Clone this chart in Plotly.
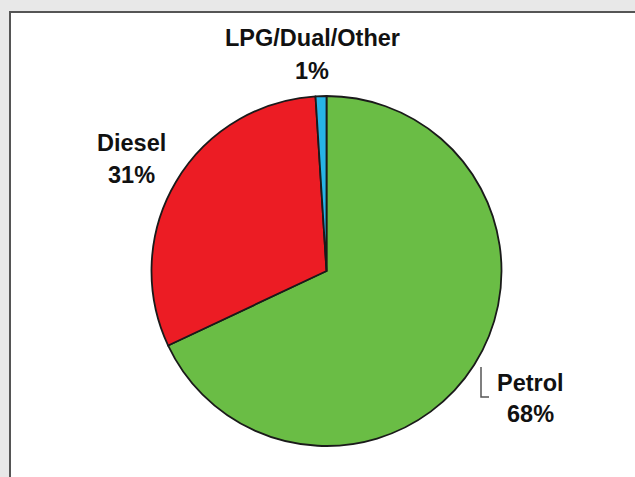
import plotly.graph_objects as go

# fuel type shares
fuels = ["Petrol", "Diesel", "LPG/Dual/Other"]
shares = [68, 31, 1]
colours = ["#6abd45", "#ec1c24", "#27b4e6"]

W, H = 635, 477

def px_x(v):
    return v / W

def px_y(v):
    return 1 - v / H

fig = go.Figure()

fig.add_trace(go.Pie(
    labels=fuels,
    values=shares,
    sort=False,
    direction="clockwise",
    rotation=0,
    marker=dict(colors=colours, line=dict(color="#1a1a1a", width=1.8)),
    textinfo="none",
    hoverinfo="label+percent",
    showlegend=False,
    domain=dict(x=[px_x(151), px_x(502)], y=[px_y(446), px_y(96)]),
))

# label positions: centre x, name line y, percent line y (pixels)
label_pos = {
    "Petrol": (530, 383, 414),
    "Diesel": (131, 143, 175),
    "LPG/Dual/Other": (312, 38, 71),
}

lbl_font = dict(family="Liberation Sans, Arial", size=23.5, color="#111111")
for name, val in zip(fuels, shares):
    cx, y1, y2 = label_pos[name]
    for txt, yy in ((name, y1), (f"{val}%", y2)):
        fig.add_annotation(
            x=px_x(cx), y=px_y(yy), xref="paper", yref="paper",
            xanchor="center", yanchor="middle",
            text=f"<b>{txt}</b>", showarrow=False,
            font=lbl_font,
        )

# white panel with border
fig.add_shape(type="rect", xref="paper", yref="paper",
              x0=px_x(10), x1=1.1, y0=-0.1, y1=px_y(12),
              fillcolor="white", line=dict(color="#555555", width=2),
              layer="below")

# leader line for petrol
fig.add_shape(type="path", xref="paper", yref="paper",
              path=f"M {px_x(481)} {px_y(367)} L {px_x(481)} {px_y(397)} L {px_x(489)} {px_y(397)}",
              line=dict(color="#555555", width=1.5))

fig.update_layout(
    width=W, height=H,
    margin=dict(l=0, r=0, t=0, b=0),
    paper_bgcolor="#e8e8e8",
    plot_bgcolor="white",
)

fig.write_html("out.html", config={"displayModeBar": False},
               post_script="document.body.style.margin='0';")
